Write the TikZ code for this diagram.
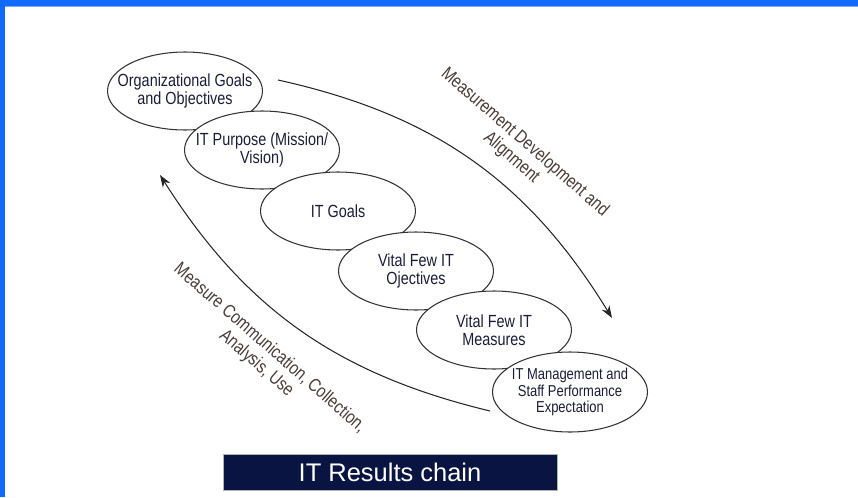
\documentclass[tikz,border=0pt]{standalone}
\usepackage{fontspec}
\setmainfont{Liberation Sans}
\newfontfamily\narrowsans[FakeStretch=0.82]{Liberation Sans}
\usetikzlibrary{arrows.meta,shapes.geometric}
\definecolor{frameblue}{RGB}{16,106,255}
\definecolor{frameedge}{RGB}{120,170,255}
\definecolor{titlenavy}{RGB}{10,20,66}
\definecolor{goaltext}{RGB}{28,28,58}
\definecolor{sidetext}{RGB}{72,60,56}

\begin{document}
\begin{tikzpicture}[x=0.02cm,y=-0.02cm,
	goal/.style={ellipse,draw=black!80,line width=0.6pt,fill=white,minimum width=3.1cm,minimum height=1.56cm,inner sep=0pt,
		label={[align=center,text=goaltext,font=\narrowsans\fontsize{10}{10.4}\selectfont]center:#1}},
	smallgoal/.style={ellipse,draw=black!80,line width=0.6pt,fill=white,minimum width=3.1cm,minimum height=1.6cm,inner sep=0pt,
		label={[align=center,text=goaltext,font=\narrowsans\fontsize{9}{9.6}\selectfont]center:#1}},
	flow/.style={-{Stealth[length=7pt,width=5pt]},line width=0.6pt,black!85},
	sidelabel/.style={rotate=-41,align=center,text=sidetext,font=\narrowsans\fontsize{10.5}{11.5}\selectfont}]
			\useasboundingbox (0,0) rectangle (858,497);
			\fill[frameblue] (0,0) rectangle (858,6);
			\fill[frameblue] (0,0) rectangle (5,497);
			\draw[frameedge, line width=0.6pt] (5,6.5) -- (858,6.5);
			\node[goal={Organizational Goals\\and Objectives}] (orggoals) at (185,91) {};
			\node[goal={IT Purpose (Mission/\\Vision)}] (itpurpose) at (262,150) {};
			\node[goal={IT Goals}] (itgoals) at (338,211) {};
			\node[goal={Vital Few IT\\Ojectives}] (vitalobj) at (416,271) {};
			\node[goal={Vital Few IT\\Measures}] (vitalmeas) at (494,330) {};
			\node[smallgoal={IT Management and\\Staff Performance\\Expectation}] (itmgmt) at (570,392) {};
			\coordinate (devstart) at (278,80);
			\coordinate (devend) at (612,318);
			\coordinate (usestart) at (490,411);
			\coordinate (useend) at (160,175);
			\draw[flow] (devstart) to[bend left=23] (devend);
			\draw[flow] (usestart) to[bend left=22] (useend);
			\node[sidelabel] (devlabel) at (518,150) {Measurement Development and\\Alignment};
			\node[sidelabel] (uselabel) at (263,356) {Measure Communication, Collection,\\Analysis, Use};
			\node[fill=titlenavy, draw=black!30, minimum width=6.68cm, minimum height=0.72cm, inner sep=0pt, text=white, font=\fontsize{14.5}{16}\selectfont] (title) at (390,472) {IT Results chain};
		\end{tikzpicture}
\end{document}
